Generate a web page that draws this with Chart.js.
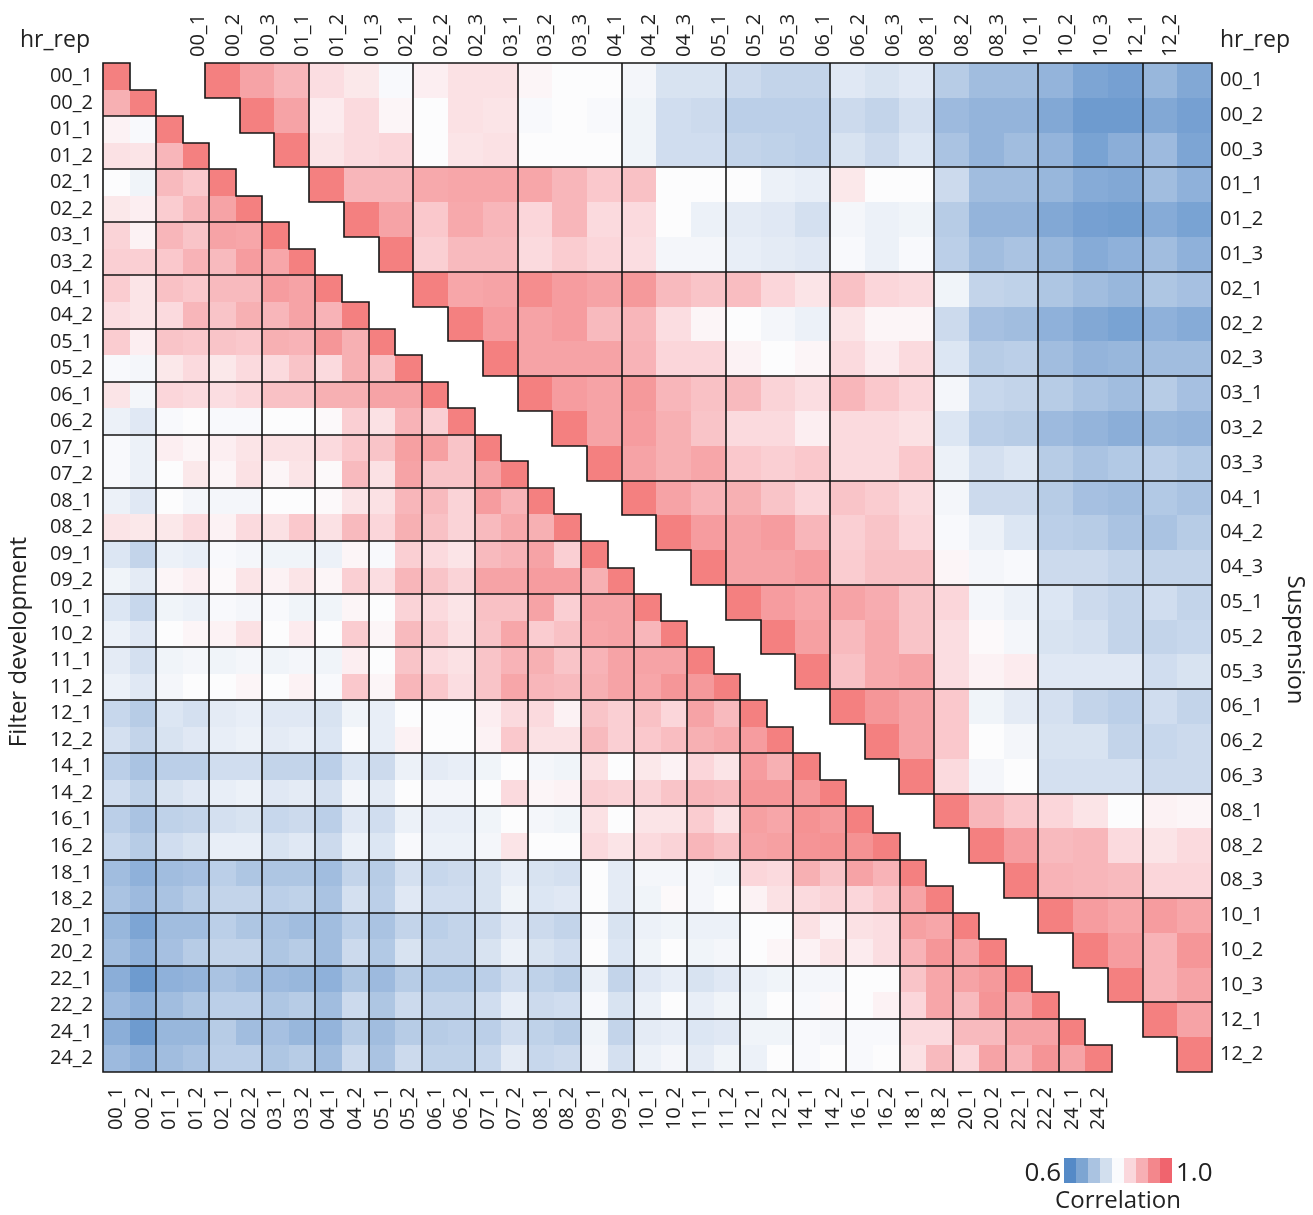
<!DOCTYPE html>
<html>
<head>
<meta charset="utf-8">
<title>Correlation heatmaps: Filter development vs Suspension</title>
<script src="https://cdn.jsdelivr.net/npm/chart.js@4"></script>
<style>
  html, body { margin: 0; padding: 0; background: #ffffff; }
  canvas { display: block; }
</style>
</head>
<body>
<canvas id="chart" width="1313" height="1215"></canvas>
<script>
// ---- sample labels (hour_replicate) ----
const filterLabels = [
  '00_1','00_2','01_1','01_2','02_1','02_2','03_1','03_2','04_1','04_2',
  '05_1','05_2','06_1','06_2','07_1','07_2','08_1','08_2','09_1','09_2',
  '10_1','10_2','11_1','11_2','12_1','12_2','14_1','14_2','16_1','16_2',
  '18_1','18_2','20_1','20_2','22_1','22_2','24_1','24_2'
];
const suspensionLabels = [
  '00_1','00_2','00_3','01_1','01_2','01_3','02_1','02_2','02_3','03_1',
  '03_2','03_3','04_1','04_2','04_3','05_1','05_2','05_3','06_1','06_2',
  '06_3','08_1','08_2','08_3','10_1','10_2','10_3','12_1','12_2'
];

// ---- Filter development: lower triangle, row r holds columns 0..r ----
const filterCorr = [
  [1],
  [0.91, 1],
  [0.815, 0.795, 1],
  [0.84, 0.835, 0.90, 1],
  [0.80, 0.785, 0.895, 0.875, 1],
  [0.83, 0.82, 0.87, 0.90, 0.93, 1],
  [0.86, 0.815, 0.90, 0.88, 0.93, 0.925, 1],
  [0.865, 0.865, 0.875, 0.905, 0.895, 0.94, 0.925, 1],
  [0.87, 0.835, 0.885, 0.875, 0.895, 0.895, 0.94, 0.93, 1],
  [0.845, 0.835, 0.85, 0.90, 0.88, 0.91, 0.90, 0.93, 0.905, 1],
  [0.87, 0.82, 0.88, 0.875, 0.88, 0.875, 0.91, 0.905, 0.95, 0.91, 1],
  [0.795, 0.79, 0.83, 0.85, 0.83, 0.85, 0.85, 0.88, 0.85, 0.91, 0.885, 1],
  [0.835, 0.79, 0.855, 0.85, 0.845, 0.855, 0.885, 0.885, 0.91, 0.91, 0.93, 0.93, 1],
  [0.78, 0.765, 0.795, 0.80, 0.795, 0.795, 0.80, 0.80, 0.805, 0.865, 0.84, 0.905, 0.865, 1],
  [0.795, 0.78, 0.82, 0.81, 0.82, 0.835, 0.84, 0.84, 0.85, 0.875, 0.88, 0.935, 0.935, 0.88, 1],
  [0.795, 0.78, 0.80, 0.83, 0.81, 0.84, 0.81, 0.835, 0.805, 0.895, 0.84, 0.93, 0.88, 0.88, 0.93, 1],
  [0.78, 0.765, 0.80, 0.79, 0.79, 0.79, 0.80, 0.80, 0.805, 0.835, 0.84, 0.90, 0.895, 0.86, 0.94, 0.905, 1],
  [0.835, 0.83, 0.83, 0.85, 0.815, 0.85, 0.84, 0.875, 0.84, 0.895, 0.855, 0.91, 0.885, 0.86, 0.895, 0.92, 0.91, 1],
  [0.76, 0.73, 0.78, 0.775, 0.795, 0.79, 0.785, 0.785, 0.78, 0.81, 0.795, 0.865, 0.85, 0.835, 0.895, 0.905, 0.93, 0.865, 1],
  [0.785, 0.77, 0.81, 0.82, 0.805, 0.835, 0.815, 0.835, 0.81, 0.865, 0.845, 0.90, 0.88, 0.86, 0.93, 0.93, 0.94, 0.94, 0.91, 1],
  [0.76, 0.735, 0.785, 0.78, 0.795, 0.79, 0.795, 0.785, 0.785, 0.81, 0.80, 0.86, 0.85, 0.835, 0.885, 0.885, 0.93, 0.865, 0.93, 0.93, 1],
  [0.78, 0.765, 0.80, 0.81, 0.815, 0.84, 0.80, 0.825, 0.80, 0.87, 0.81, 0.895, 0.865, 0.84, 0.88, 0.925, 0.87, 0.885, 0.925, 0.93, 0.90, 1],
  [0.77, 0.75, 0.785, 0.79, 0.785, 0.79, 0.785, 0.79, 0.785, 0.82, 0.80, 0.88, 0.85, 0.84, 0.88, 0.905, 0.91, 0.88, 0.905, 0.93, 0.93, 0.93, 1],
  [0.78, 0.765, 0.79, 0.80, 0.80, 0.81, 0.80, 0.815, 0.795, 0.875, 0.81, 0.90, 0.875, 0.845, 0.88, 0.925, 0.90, 0.895, 0.91, 0.93, 0.925, 0.95, 0.945, 1],
  [0.735, 0.715, 0.76, 0.75, 0.77, 0.775, 0.765, 0.765, 0.755, 0.785, 0.775, 0.80, 0.80, 0.80, 0.82, 0.85, 0.85, 0.815, 0.88, 0.865, 0.885, 0.855, 0.93, 0.895, 1],
  [0.75, 0.73, 0.755, 0.765, 0.775, 0.78, 0.77, 0.775, 0.76, 0.80, 0.775, 0.815, 0.80, 0.80, 0.815, 0.875, 0.84, 0.84, 0.895, 0.865, 0.875, 0.89, 0.91, 0.92, 0.94, 1],
  [0.72, 0.70, 0.72, 0.72, 0.745, 0.745, 0.73, 0.73, 0.72, 0.76, 0.74, 0.78, 0.77, 0.775, 0.785, 0.80, 0.79, 0.785, 0.84, 0.80, 0.83, 0.815, 0.855, 0.835, 0.94, 0.91, 1],
  [0.745, 0.725, 0.755, 0.765, 0.775, 0.78, 0.765, 0.77, 0.75, 0.79, 0.77, 0.80, 0.79, 0.79, 0.80, 0.85, 0.81, 0.815, 0.865, 0.86, 0.86, 0.88, 0.90, 0.895, 0.95, 0.95, 0.945, 1],
  [0.72, 0.70, 0.725, 0.73, 0.75, 0.755, 0.735, 0.74, 0.72, 0.765, 0.745, 0.78, 0.775, 0.775, 0.785, 0.80, 0.79, 0.785, 0.84, 0.80, 0.835, 0.835, 0.87, 0.84, 0.935, 0.925, 0.96, 0.945, 1],
  [0.735, 0.715, 0.745, 0.755, 0.775, 0.775, 0.755, 0.765, 0.74, 0.78, 0.76, 0.795, 0.78, 0.78, 0.79, 0.835, 0.80, 0.80, 0.85, 0.835, 0.85, 0.86, 0.90, 0.885, 0.93, 0.935, 0.955, 0.96, 0.96, 1],
  [0.69, 0.67, 0.69, 0.695, 0.72, 0.705, 0.705, 0.705, 0.69, 0.73, 0.715, 0.75, 0.735, 0.74, 0.755, 0.775, 0.755, 0.75, 0.80, 0.77, 0.79, 0.79, 0.79, 0.785, 0.855, 0.85, 0.91, 0.88, 0.93, 0.905, 1],
  [0.70, 0.685, 0.70, 0.715, 0.73, 0.73, 0.72, 0.725, 0.70, 0.75, 0.72, 0.765, 0.745, 0.745, 0.755, 0.785, 0.76, 0.765, 0.80, 0.77, 0.785, 0.805, 0.79, 0.80, 0.815, 0.84, 0.85, 0.86, 0.855, 0.875, 0.93, 1],
  [0.68, 0.65, 0.69, 0.69, 0.72, 0.705, 0.70, 0.69, 0.69, 0.72, 0.70, 0.73, 0.72, 0.73, 0.74, 0.765, 0.74, 0.73, 0.795, 0.755, 0.78, 0.785, 0.78, 0.78, 0.80, 0.80, 0.84, 0.815, 0.84, 0.845, 0.935, 0.925, 1],
  [0.69, 0.67, 0.695, 0.715, 0.73, 0.73, 0.705, 0.715, 0.69, 0.74, 0.71, 0.755, 0.73, 0.73, 0.755, 0.78, 0.755, 0.745, 0.80, 0.76, 0.785, 0.80, 0.785, 0.79, 0.80, 0.81, 0.815, 0.835, 0.825, 0.845, 0.905, 0.95, 0.93, 1],
  [0.665, 0.63, 0.67, 0.675, 0.70, 0.69, 0.685, 0.68, 0.67, 0.705, 0.685, 0.715, 0.71, 0.71, 0.72, 0.745, 0.725, 0.715, 0.78, 0.73, 0.765, 0.775, 0.755, 0.765, 0.78, 0.785, 0.79, 0.79, 0.80, 0.80, 0.88, 0.925, 0.93, 0.945, 1],
  [0.685, 0.67, 0.69, 0.705, 0.72, 0.72, 0.705, 0.715, 0.69, 0.74, 0.705, 0.74, 0.73, 0.73, 0.745, 0.775, 0.74, 0.745, 0.795, 0.755, 0.78, 0.80, 0.775, 0.785, 0.785, 0.80, 0.795, 0.805, 0.80, 0.815, 0.855, 0.925, 0.895, 0.955, 0.93, 1],
  [0.665, 0.63, 0.68, 0.68, 0.715, 0.69, 0.695, 0.68, 0.675, 0.715, 0.69, 0.715, 0.715, 0.72, 0.72, 0.745, 0.725, 0.715, 0.785, 0.73, 0.77, 0.775, 0.76, 0.765, 0.785, 0.785, 0.795, 0.79, 0.795, 0.795, 0.85, 0.85, 0.895, 0.895, 0.93, 0.93, 1],
  [0.685, 0.67, 0.69, 0.70, 0.72, 0.72, 0.705, 0.715, 0.69, 0.74, 0.70, 0.74, 0.725, 0.725, 0.735, 0.77, 0.735, 0.74, 0.79, 0.75, 0.78, 0.79, 0.77, 0.785, 0.78, 0.80, 0.795, 0.80, 0.795, 0.80, 0.84, 0.895, 0.855, 0.93, 0.905, 0.955, 0.93, 1]
];

// ---- Suspension: upper triangle, row r holds columns r..28 ----
const suspensionCorr = [
  [1, 0.93, 0.90, 0.845, 0.83, 0.795, 0.82, 0.84, 0.84, 0.81, 0.80, 0.80, 0.79, 0.755, 0.755, 0.74, 0.73, 0.73, 0.765, 0.755, 0.765, 0.715, 0.69, 0.69, 0.675, 0.65, 0.64, 0.68, 0.655],
  [1, 0.93, 0.825, 0.85, 0.81, 0.80, 0.84, 0.835, 0.795, 0.80, 0.795, 0.785, 0.745, 0.74, 0.72, 0.72, 0.72, 0.74, 0.73, 0.75, 0.685, 0.675, 0.675, 0.655, 0.63, 0.63, 0.655, 0.64],
  [1, 0.835, 0.85, 0.855, 0.80, 0.835, 0.84, 0.80, 0.80, 0.80, 0.785, 0.745, 0.745, 0.73, 0.725, 0.72, 0.755, 0.74, 0.76, 0.70, 0.675, 0.69, 0.675, 0.645, 0.665, 0.685, 0.65],
  [1, 0.90, 0.90, 0.92, 0.925, 0.925, 0.925, 0.90, 0.875, 0.885, 0.80, 0.80, 0.80, 0.78, 0.775, 0.83, 0.80, 0.80, 0.74, 0.69, 0.69, 0.68, 0.66, 0.655, 0.69, 0.67],
  [1, 0.93, 0.875, 0.92, 0.90, 0.855, 0.90, 0.85, 0.85, 0.80, 0.78, 0.77, 0.765, 0.75, 0.79, 0.78, 0.785, 0.715, 0.675, 0.675, 0.655, 0.64, 0.635, 0.66, 0.645],
  [1, 0.865, 0.895, 0.895, 0.85, 0.87, 0.855, 0.845, 0.79, 0.79, 0.775, 0.77, 0.765, 0.795, 0.78, 0.795, 0.72, 0.69, 0.70, 0.68, 0.66, 0.67, 0.69, 0.67],
  [1, 0.925, 0.93, 0.97, 0.94, 0.93, 0.945, 0.895, 0.88, 0.89, 0.855, 0.835, 0.885, 0.855, 0.85, 0.785, 0.73, 0.725, 0.705, 0.69, 0.68, 0.705, 0.695],
  [1, 0.94, 0.93, 0.94, 0.895, 0.90, 0.845, 0.81, 0.80, 0.79, 0.78, 0.835, 0.81, 0.81, 0.74, 0.695, 0.69, 0.67, 0.655, 0.645, 0.67, 0.66],
  [1, 0.93, 0.93, 0.93, 0.905, 0.855, 0.855, 0.815, 0.80, 0.81, 0.85, 0.825, 0.85, 0.76, 0.715, 0.72, 0.69, 0.675, 0.68, 0.69, 0.69],
  [1, 0.94, 0.93, 0.945, 0.90, 0.885, 0.895, 0.86, 0.845, 0.90, 0.875, 0.855, 0.79, 0.735, 0.73, 0.715, 0.70, 0.69, 0.715, 0.695],
  [1, 0.93, 0.94, 0.91, 0.88, 0.85, 0.85, 0.82, 0.85, 0.85, 0.84, 0.76, 0.72, 0.715, 0.685, 0.675, 0.665, 0.68, 0.675],
  [1, 0.93, 0.91, 0.925, 0.875, 0.865, 0.875, 0.85, 0.85, 0.875, 0.78, 0.75, 0.76, 0.715, 0.70, 0.71, 0.72, 0.71],
  [1, 0.93, 0.905, 0.91, 0.88, 0.855, 0.88, 0.87, 0.85, 0.79, 0.74, 0.74, 0.715, 0.695, 0.69, 0.71, 0.70],
  [1, 0.94, 0.93, 0.94, 0.90, 0.865, 0.88, 0.855, 0.795, 0.78, 0.76, 0.72, 0.715, 0.70, 0.70, 0.715],
  [1, 0.93, 0.93, 0.94, 0.87, 0.885, 0.885, 0.81, 0.79, 0.795, 0.74, 0.74, 0.73, 0.73, 0.73],
  [1, 0.94, 0.925, 0.93, 0.915, 0.88, 0.855, 0.79, 0.78, 0.76, 0.74, 0.73, 0.745, 0.73],
  [1, 0.935, 0.895, 0.92, 0.88, 0.845, 0.805, 0.79, 0.755, 0.75, 0.73, 0.73, 0.735],
  [1, 0.885, 0.92, 0.93, 0.845, 0.815, 0.825, 0.765, 0.765, 0.765, 0.745, 0.755],
  [1, 0.95, 0.93, 0.875, 0.785, 0.77, 0.75, 0.73, 0.72, 0.745, 0.73],
  [1, 0.93, 0.875, 0.80, 0.79, 0.755, 0.755, 0.73, 0.735, 0.74],
  [1, 0.85, 0.79, 0.80, 0.75, 0.75, 0.75, 0.74, 0.74],
  [1, 0.90, 0.875, 0.855, 0.835, 0.80, 0.815, 0.81],
  [1, 0.94, 0.895, 0.90, 0.85, 0.835, 0.85],
  [1, 0.905, 0.90, 0.895, 0.855, 0.855],
  [1, 0.94, 0.925, 0.94, 0.925],
  [1, 0.94, 0.905, 0.95],
  [1, 0.905, 0.93],
  [1, 0.93],
  [1]
];

// colour-bar end labels
const legendTicks = ['0.6', '1.0'];

// ---- diverging colour scale 0.6 (blue) -> 0.8 (white) -> 1.0 (red) ----
const colorStops = [
  [0.60, [88, 140, 200]],
  [0.65, [125, 165, 212]],
  [0.70, [170, 195, 226]],
  [0.75, [212, 224, 240]],
  [0.80, [252, 252, 253]],
  [0.85, [251, 218, 222]],
  [0.90, [248, 182, 186]],
  [0.95, [245, 150, 152]],
  [1.00, [244, 128, 128]]
];
const legendSwatches = [
  'rgb(85,138,199)', 'rgb(125,165,210)', 'rgb(170,195,225)', 'rgb(210,223,238)',
  'rgb(250,251,253)', 'rgb(250,215,220)', 'rgb(247,175,180)', 'rgb(243,135,140)', 'rgb(240,100,110)'
];

function corrColor(v) {
  const t = Math.min(1, Math.max(0.6, v));
  for (let i = 1; i < colorStops.length; i++) {
    const [v1, c1] = colorStops[i];
    if (t <= v1) {
      const [v0, c0] = colorStops[i - 1];
      const f = (t - v0) / (v1 - v0);
      const c = c0.map((a, k) => Math.round(a + (c1[k] - a) * f));
      return `rgb(${c[0]},${c[1]},${c[2]})`;
    }
  }
  const c = colorStops[colorStops.length - 1][1];
  return `rgb(${c[0]},${c[1]},${c[2]})`;
}

// ---- points for the two matrices ----
const filterPoints = filterCorr.flatMap((row, r) => row.map((v, c) => ({ x: c, y: r, v })));
const suspensionPoints = suspensionCorr.flatMap((row, r) => row.map((v, k) => ({ x: r + k, y: r, v })));

// ---- layout: plot region inside a 1313 x 1215 canvas ----
const CANVAS_W = 1313, CANVAS_H = 1215;
const AREA = { left: 103, top: 63, right: 1212, bottom: 1072 };
const AREA_W = AREA.right - AREA.left;
const FILTER_SPAN = 1009;      // filter matrix is square, anchored at the left edge
const SUSP_SPAN = 1007;        // suspension matrix is anchored at the right edge
const FONT = "'Open Sans', 'Noto Sans', sans-serif";
const TEXT = '#222222';
const TICK_SIZE = 20;

function indexAxis(labels, opts) {
  return {
    type: 'linear',
    position: opts.position,
    reverse: !!opts.reverse,
    min: opts.min,
    max: opts.max,
    grid: { display: false, drawTicks: false },
    border: { display: false },
    ticks: {
      autoSkip: false,
      padding: opts.padding,
      minRotation: opts.rotation || 0,
      maxRotation: opts.rotation || 0,
      font: { family: FONT, size: TICK_SIZE },
      color: TEXT,
      callback: (v) => (labels[v] !== undefined ? labels[v] : '')
    },
    afterBuildTicks: (scale) => { scale.ticks = labels.map((_, i) => ({ value: i })); },
    afterFit: opts.afterFit
  };
}

// draws every cell of a triangular matrix plus the hour-group outlines
function drawMatrix(chart, dsIndex, labels) {
  const meta = chart.getDatasetMeta(dsIndex);
  const xs = chart.scales[meta.xAxisID];
  const ys = chart.scales[meta.yAxisID];
  const pts = chart.data.datasets[dsIndex].data;
  const ctx = chart.ctx;
  const present = new Set(pts.map(p => p.y + ',' + p.x));
  const has = (r, c) => present.has(r + ',' + c);
  const hour = (i) => labels[i].split('_')[0];
  const px = (v) => Math.round(xs.getPixelForValue(v));
  const py = (v) => Math.round(ys.getPixelForValue(v));

  ctx.save();
  pts.forEach(p => {
    const l = px(p.x - 0.5), r = px(p.x + 0.5);
    const t = py(p.y - 0.5), b = py(p.y + 0.5);
    ctx.fillStyle = corrColor(p.v);
    ctx.fillRect(l, t, r - l, b - t);
  });

  ctx.beginPath();
  pts.forEach(p => {
    const l = px(p.x - 0.5), r = px(p.x + 0.5);
    const t = py(p.y - 0.5), b = py(p.y + 0.5);
    if (!has(p.y - 1, p.x) || hour(p.y - 1) !== hour(p.y)) { ctx.moveTo(l, t); ctx.lineTo(r, t); }
    if (!has(p.y + 1, p.x)) { ctx.moveTo(l, b); ctx.lineTo(r, b); }
    if (!has(p.y, p.x - 1) || hour(p.x - 1) !== hour(p.x)) { ctx.moveTo(l, t); ctx.lineTo(l, b); }
    if (!has(p.y, p.x + 1)) { ctx.moveTo(r, t); ctx.lineTo(r, b); }
  });
  ctx.lineWidth = 1.6;
  ctx.lineCap = 'square';
  ctx.strokeStyle = '#151515';
  ctx.stroke();
  ctx.restore();
}

const matrixPlugin = {
  id: 'triangularMatrices',
  beforeDatasetsDraw(chart) {
    drawMatrix(chart, 0, filterLabels);
    drawMatrix(chart, 1, suspensionLabels);
  }
};

const annotationPlugin = {
  id: 'titlesAndColorBar',
  afterDraw(chart) {
    const ctx = chart.ctx;
    ctx.save();
    ctx.fillStyle = TEXT;

    // corner headers
    ctx.font = `23px ${FONT}`;
    ctx.textBaseline = 'alphabetic';
    ctx.textAlign = 'left';
    ctx.fillText('hr_rep', 20, 47);
    ctx.fillText('hr_rep', 1220, 47);

    // side titles
    ctx.font = `24px ${FONT}`;
    ctx.textAlign = 'center';
    ctx.textBaseline = 'middle';
    ctx.save();
    ctx.translate(19, 642);
    ctx.rotate(-Math.PI / 2);
    ctx.fillText('Filter development', 0, 0);
    ctx.restore();
    ctx.save();
    ctx.translate(1295, 640);
    ctx.rotate(Math.PI / 2);
    ctx.fillText('Suspension', 0, 0);
    ctx.restore();

    // colour bar
    const sw = 12, sx = 1064, sy = 1158, sh = 25;
    legendSwatches.forEach((c, i) => {
      ctx.fillStyle = c;
      ctx.fillRect(sx + i * sw, sy, sw, sh);
    });
    ctx.fillStyle = TEXT;
    ctx.font = `26px ${FONT}`;
    ctx.textBaseline = 'alphabetic';
    ctx.textAlign = 'right';
    ctx.fillText(legendTicks[0], sx - 3, 1181);
    ctx.textAlign = 'left';
    ctx.fillText(legendTicks[1], sx + legendSwatches.length * sw + 4, 1181);
    ctx.font = `24px ${FONT}`;
    ctx.textAlign = 'center';
    ctx.fillText('Correlation', 1118, 1208);
    ctx.restore();
  }
};

Chart.defaults.font.family = FONT;

new Chart(document.getElementById('chart'), {
  type: 'scatter',
  data: {
    datasets: [
      { label: 'Filter development', data: filterPoints, xAxisID: 'xF', yAxisID: 'yF', pointRadius: 0, pointHoverRadius: 0 },
      { label: 'Suspension', data: suspensionPoints, xAxisID: 'xS', yAxisID: 'yS', pointRadius: 0, pointHoverRadius: 0 }
    ]
  },
  options: {
    responsive: false,
    animation: false,
    devicePixelRatio: 1,
    events: [],
    layout: { padding: 0 },
    plugins: { legend: { display: false }, tooltip: { enabled: false } },
    scales: {
      xF: indexAxis(filterLabels, {
        position: 'bottom', min: -0.5, max: -0.5 + filterLabels.length * AREA_W / FILTER_SPAN,
        padding: 15, rotation: 90,
        afterFit: (s) => { s.height = CANVAS_H - AREA.bottom; }
      }),
      yF: indexAxis(filterLabels, {
        position: 'left', reverse: true, min: -0.5, max: filterLabels.length - 0.5,
        padding: 10,
        afterFit: (s) => { s.width = AREA.left; }
      }),
      xS: indexAxis(suspensionLabels, {
        position: 'top', min: suspensionLabels.length - 0.5 - suspensionLabels.length * AREA_W / SUSP_SPAN,
        max: suspensionLabels.length - 0.5,
        padding: 6, rotation: 90,
        afterFit: (s) => { s.height = AREA.top; }
      }),
      yS: indexAxis(suspensionLabels, {
        position: 'right', reverse: true, min: -0.5, max: suspensionLabels.length - 0.5,
        padding: 8,
        afterFit: (s) => { s.width = CANVAS_W - AREA.right; }
      })
    }
  },
  plugins: [matrixPlugin, annotationPlugin]
});
</script>
</body>
</html>
